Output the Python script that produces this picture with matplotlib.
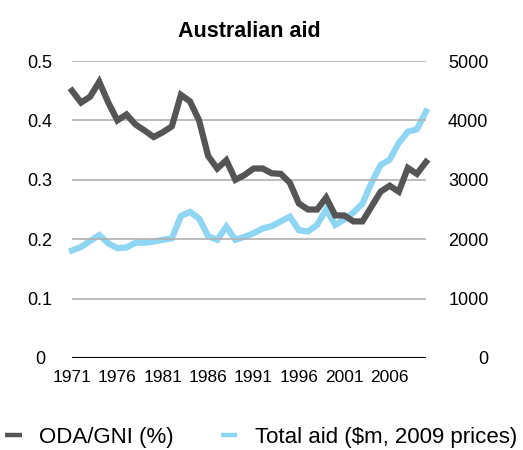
import matplotlib
matplotlib.use('Agg')
import matplotlib.pyplot as plt

# Data
years = list(range(1971, 2011))
oda_gni = [0.45, 0.43, 0.44, 0.465, 0.43, 0.40, 0.41, 0.393, 0.383, 0.372,
           0.38, 0.39, 0.443, 0.432, 0.40, 0.34, 0.319, 0.333, 0.30, 0.308,
           0.319, 0.319, 0.311, 0.31, 0.295, 0.26, 0.25, 0.25, 0.27, 0.24,
           0.24, 0.23, 0.23, 0.255, 0.28, 0.29, 0.28, 0.32, 0.31, 0.33]
total_aid = [1810, 1870, 1970, 2070, 1930, 1850, 1860, 1940, 1940, 1960,
             1990, 2015, 2390, 2460, 2350, 2050, 1990, 2210, 1990, 2040,
             2100, 2180, 2220, 2300, 2380, 2150, 2130, 2240, 2500, 2240,
             2330, 2450, 2600, 2950, 3250, 3340, 3620, 3810, 3850, 4150]
tick_years = [1971, 1976, 1981, 1986, 1991, 1996, 2001, 2006]
left_ticks = [0, 0.1, 0.2, 0.3, 0.4, 0.5]
right_ticks = [0, 1000, 2000, 3000, 4000, 5000]

plt.rcParams['font.family'] = ['Liberation Sans', 'DejaVu Sans']

gray = '#555555'
blue = '#8fd6f2'

fig = plt.figure(figsize=(5.23, 4.5), dpi=100)
ax = fig.add_axes([72/523, 1 - 358/450, 354/523, 297/450])
ax2 = ax.twinx()

# Gridlines
for v in left_ticks[1:]:
    ax.axhline(v, color='#b0b0b0', lw=1.2, zorder=0)

ln1, = ax2.plot(years, total_aid, color=blue, lw=4.5, solid_joinstyle='miter',
                label='Total aid (\\$m, 2009 prices)', zorder=2, clip_on=False)
ln2, = ax.plot(years, oda_gni, color=gray, lw=4.5, solid_joinstyle='miter',
               label='ODA/GNI (%)', zorder=3, clip_on=False)
ax.set_zorder(ax2.get_zorder() + 1)
ax.patch.set_visible(False)

ax.set_xlim(1971, 2010)
ax.set_ylim(0, 0.5)
ax2.set_ylim(0, 5000)

ax.set_yticks(left_ticks)
ax.set_yticklabels([str(t) if t else '0' for t in left_ticks])
ax2.set_yticks(right_ticks)
ax.set_xticks(tick_years)
ax.set_xticklabels([str(y) for y in tick_years])

ax.tick_params(axis='y', length=0, pad=23, labelsize=13)
for lab in ax.get_yticklabels():
    lab.set_horizontalalignment('center')
ax2.tick_params(axis='y', length=0, pad=45, labelsize=13)
for lab in ax2.get_yticklabels():
    lab.set_horizontalalignment('right')
ax.tick_params(axis='x', length=0, pad=9, labelsize=12.5)

for a in (ax, ax2):
    for s in ('top', 'left', 'right', 'bottom'):
        a.spines[s].set_visible(False)
ax.axhline(0, color='black', lw=1.5, zorder=4)

ax.set_title('Australian aid', fontsize=15.5, fontweight='bold', pad=17)

leg = fig.legend(handles=[ln2, ln1], loc='center left',
                 bbox_to_anchor=(5/523, 1 - 437/450), ncol=2, frameon=False,
                 fontsize=16, handlelength=0.75, handletextpad=0.8,
                 columnspacing=2.1, borderpad=0, borderaxespad=0)
for h in leg.get_lines():
    h.set_linewidth(3.2)
    h.set_solid_capstyle('butt')

fig.savefig('out.png', dpi=100)
